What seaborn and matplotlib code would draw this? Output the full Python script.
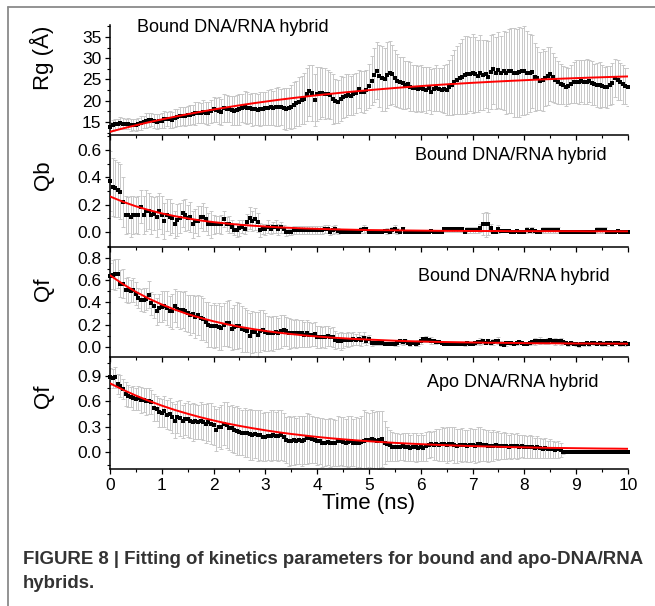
import numpy as np
import pandas as pd
import matplotlib
matplotlib.use("Agg")
import matplotlib.pyplot as plt
import seaborn as sns
from matplotlib.lines import Line2D
from matplotlib.ticker import MultipleLocator

# ---------------- data ----------------
FRAME_NS = 0.05   # spacing of data frames (ns)
FIT_NS = 0.25     # spacing of sampled fit curve (ns)

rg_mean = [
    13.9,14.2,14.5,14.6,14.7,14.6,14.5,14.6,14.3,14.4, 14.3,14.6,14.8,15.0,15.3,15.4,15.5,15.2,15.1,15.3,
    15.3,15.6,15.7,15.6,15.5,15.9,16.1,16.3,16.5,16.3, 16.6,16.7,16.8,17.0,17.2,17.1,17.4,17.2,17.0,17.5,
    18.0,17.8,17.7,17.4,18.2,18.1,18.0,17.8,17.7,17.8, 18.0,18.3,18.5,18.3,18.2,18.0,18.0,17.9,18.0,18.1,
    18.2,18.4,18.5,18.3,18.5,18.6,18.5,18.2,18.0,18.4, 18.6,19.0,19.4,19.8,20.2,20.5,21.5,22.4,21.8,20.2,
    21.6,21.8,21.9,21.7,21.6,21.3,20.4,20.0,19.8,20.5, 20.8,21.2,21.4,21.2,21.5,21.8,22.7,22.1,22.0,22.5,
    23.5,24.7,26.0,27.1,25.8,25.3,25.0,26.0,26.5,26.2, 25.3,24.7,24.3,24.1,23.7,23.9,23.3,22.9,22.9,22.8,
    22.9,22.7,22.5,22.9,22.1,22.7,22.9,22.7,22.6,22.8, 22.6,23.2,23.7,24.4,24.8,25.3,25.7,26.1,26.2,26.3,
    26.5,26.2,25.8,26.6,26.1,26.3,25.7,26.8,27.4,26.6, 27.2,26.6,27.1,26.5,26.9,27.1,26.6,26.5,26.8,26.9,
    27.1,26.6,26.5,26.8,25.6,25.3,24.7,24.9,25.3,25.8, 26.3,25.5,24.9,24.3,23.9,23.7,23.3,23.5,24.0,24.3,
    24.5,24.5,24.6,24.4,24.5,24.6,24.2,23.9,23.7,23.7, 23.5,23.3,23.2,23.6,24.1,25.3,24.8,24.5,23.9,23.5,
    23.3]
rg_err = [
    1.2,1.3,1.3,1.2,1.4,1.3,1.2,1.3,1.4,1.3, 1.5,1.4,1.6,1.5,1.7,1.6,1.5,1.7,1.8,1.6,
    1.8,1.9,1.7,2.0,1.9,2.1,2.0,2.2,2.1,2.3, 2.2,2.4,2.3,2.6,2.5,2.4,2.7,2.6,2.8,2.7,
    2.9,2.8,3.1,3.0,3.3,3.2,3.0,3.4,3.3,3.5, 3.6,3.4,3.8,3.7,3.5,3.9,3.8,3.6,4.0,3.9,
    3.8,4.1,4.3,4.0,4.4,4.6,4.3,4.8,5.0,4.7, 5.2,5.5,5.3,5.8,5.6,6.0,6.3,5.9,6.5,6.2,
    6.4,6.1,5.8,6.0,5.7,5.5,5.8,5.2,5.0,5.3, 4.9,5.1,4.8,4.6,4.9,4.7,4.5,4.8,5.0,4.7,
    5.2,5.8,6.3,6.8,7.2,7.6,7.3,7.8,7.5,7.0, 6.6,6.2,5.9,6.1,5.7,5.5,5.8,5.4,5.6,5.3,
    5.5,5.2,5.4,5.0,5.3,5.1,5.4,5.0,5.2,5.6, 6.0,6.5,7.1,7.6,8.0,8.4,8.8,9.2,9.0,8.7,
    9.3,8.9,8.5,8.8,8.3,8.0,8.4,8.7,8.2,8.5, 8.9,8.6,9.2,9.6,9.9,10.1,10.4,10.3,10.6,10.2,
    10.5,9.8,9.2,8.6,8.0,7.4,6.8,7.2,6.5,6.9, 6.3,5.8,5.4,5.0,4.7,4.4,4.6,4.3,4.5,4.8,
    5.0,5.2,4.9,5.1,5.3,5.0,5.2,4.8,5.1,5.4, 5.0,4.7,4.9,4.6,4.8,4.5,4.7,4.4,4.6,4.3,
    4.5]
rg_fit = [12.70,13.49,14.24,14.94,15.61,16.24,16.84,17.40,17.94,18.44,18.92,19.38,19.80,20.21,
          20.59,20.95,21.30,21.62,21.93,22.22,22.49,22.75,23.00,23.23,23.45,23.66,23.86,24.04,
          24.22,24.38,24.54,24.69,24.83,24.97,25.09,25.21,25.32,25.43,25.53,25.63,25.72]

qb_mean = [
    0.370,0.330,0.320,0.310,0.295,0.220,0.125,0.125,0.110,0.125, 0.125,0.125,0.185,0.125,0.155,0.155,0.125,0.135,0.110,0.155,
    0.125,0.080,0.125,0.110,0.105,0.056,0.088,0.105,0.137,0.125, 0.105,0.110,0.056,0.080,0.080,0.110,0.110,0.095,0.056,0.056,
    0.056,0.056,0.056,0.056,0.095,0.056,0.056,0.040,0.015,0.015, 0.027,0.040,0.022,0.070,0.100,0.080,0.095,0.070,0.015,0.022,
    0.020,0.040,0.022,0.034,0.040,0.020,0.034,0.022,0.000,0.000, 0.000,0.015,0.015,0.015,0.015,0.015,0.015,0.015,0.015,0.015,
    0.015,0.015,0.015,0.022,0.020,0.000,0.015,0.020,0.007,0.000, 0.000,0.000,0.000,0.000,0.000,0.000,0.000,0.015,0.022,0.020,
    0.000,0.000,0.000,0.000,0.000,0.000,0.007,0.007,0.000,0.015, 0.020,0.007,0.000,0.020,0.000,0.000,0.000,0.000,0.000,0.000,
    0.000,0.000,0.000,0.000,0.007,0.000,0.000,0.000,0.000,0.020, 0.020,0.020,0.020,0.020,0.020,0.020,0.020,0.000,0.015,0.015,
    0.015,0.015,0.015,0.027,0.056,0.056,0.056,0.027,0.000,0.000, 0.020,0.007,0.007,0.007,0.007,0.000,0.000,0.007,0.000,0.000,
    0.000,0.015,0.007,0.015,0.007,0.000,0.000,0.015,0.015,0.015, 0.015,0.015,0.015,0.015,0.000,0.000,0.000,0.000,0.000,0.000,
    0.000,0.000,0.000,0.000,0.000,0.000,0.000,0.000,0.015,0.015, 0.015,0.015,0.000,0.000,0.000,0.000,0.007,0.000,0.000,0.000,
    0.000]
qb_err = [
    0.22,0.21,0.21,0.20,0.20,0.18,0.14,0.13,0.15,0.14, 0.13,0.14,0.12,0.14,0.15,0.13,0.14,0.12,0.15,0.13,
    0.14,0.13,0.12,0.13,0.11,0.10,0.12,0.11,0.10,0.12, 0.09,0.11,0.10,0.09,0.11,0.08,0.10,0.09,0.08,0.10,
    0.07,0.06,0.06,0.07,0.06,0.05,0.06,0.05,0.04,0.05, 0.06,0.05,0.04,0.06,0.08,0.07,0.08,0.07,0.05,0.04,
    0.04,0.05,0.04,0.04,0.05,0.04,0.04,0.03,0.03,0.02, 0.02,0.03,0.03,0.03,0.03,0.03,0.03,0.03,0.03,0.03,
    0.03,0.03,0.03,0.03,0.03,0.02,0.03,0.03,0.02,0.00, 0.00,0.00,0.00,0.00,0.00,0.00,0.00,0.02,0.03,0.02,
    0.00,0.00,0.00,0.00,0.00,0.00,0.01,0.02,0.00,0.02, 0.03,0.02,0.00,0.02,0.00,0.00,0.00,0.00,0.00,0.00,
    0.00,0.00,0.00,0.00,0.01,0.00,0.00,0.00,0.00,0.02, 0.02,0.02,0.02,0.02,0.02,0.02,0.02,0.00,0.02,0.02,
    0.02,0.02,0.02,0.03,0.08,0.09,0.08,0.03,0.00,0.00, 0.03,0.01,0.01,0.01,0.01,0.00,0.00,0.01,0.00,0.00,
    0.00,0.02,0.01,0.02,0.01,0.00,0.00,0.02,0.02,0.02, 0.02,0.02,0.02,0.02,0.00,0.00,0.00,0.00,0.00,0.00,
    0.00,0.00,0.00,0.00,0.00,0.00,0.00,0.00,0.02,0.02, 0.02,0.02,0.00,0.00,0.00,0.00,0.01,0.00,0.00,0.00,
    0.00]
qb_fit = [0.260,0.221,0.188,0.160,0.136,0.116,0.099,0.084,0.072,0.062,0.053,0.046,0.040,0.034,
          0.030,0.026,0.023,0.020,0.018,0.016,0.014,0.013,0.012,0.011,0.010,0.009,0.008,0.008,
          0.007,0.007,0.007,0.006,0.006,0.006,0.006,0.006,0.006,0.005,0.005,0.005,0.005]

qf_bound_mean = [
    0.640,0.650,0.655,0.660,0.570,0.570,0.510,0.510,0.500,0.510, 0.480,0.440,0.420,0.420,0.430,0.470,0.390,0.370,0.320,0.350,
    0.360,0.370,0.350,0.320,0.320,0.370,0.340,0.330,0.330,0.320, 0.300,0.290,0.295,0.270,0.290,0.260,0.250,0.220,0.200,0.190,
    0.190,0.190,0.180,0.170,0.200,0.210,0.210,0.160,0.180,0.190, 0.190,0.160,0.150,0.140,0.100,0.130,0.130,0.110,0.140,0.150,
    0.130,0.120,0.120,0.120,0.130,0.120,0.140,0.150,0.140,0.120, 0.120,0.120,0.120,0.120,0.120,0.110,0.120,0.110,0.110,0.115,
    0.090,0.090,0.085,0.090,0.100,0.090,0.085,0.060,0.055,0.050, 0.057,0.063,0.063,0.063,0.072,0.063,0.072,0.057,0.080,0.055,
    0.070,0.033,0.033,0.033,0.033,0.033,0.024,0.024,0.024,0.024, 0.024,0.033,0.048,0.042,0.048,0.033,0.024,0.033,0.024,0.033,
    0.055,0.066,0.070,0.063,0.054,0.048,0.042,0.042,0.033,0.027, 0.025,0.025,0.025,0.025,0.025,0.025,0.025,0.025,0.033,0.027,
    0.025,0.033,0.042,0.045,0.048,0.033,0.048,0.033,0.042,0.050, 0.054,0.027,0.018,0.030,0.033,0.033,0.025,0.033,0.040,0.033,
    0.025,0.025,0.033,0.042,0.048,0.050,0.054,0.054,0.048,0.050, 0.063,0.054,0.048,0.054,0.048,0.042,0.033,0.025,0.033,0.025,
    0.025,0.018,0.025,0.025,0.033,0.025,0.030,0.033,0.027,0.033, 0.027,0.025,0.030,0.033,0.027,0.030,0.033,0.027,0.025,0.030,
    0.027]
qf_bound_err = [
    0.12,0.13,0.14,0.13,0.12,0.13,0.11,0.12,0.10,0.11, 0.10,0.09,0.10,0.11,0.10,0.12,0.10,0.11,0.12,0.13,
    0.14,0.13,0.15,0.14,0.16,0.15,0.16,0.17,0.16,0.18, 0.17,0.18,0.17,0.19,0.18,0.20,0.19,0.18,0.20,0.19,
    0.20,0.19,0.21,0.20,0.19,0.20,0.21,0.19,0.20,0.21, 0.20,0.21,0.20,0.19,0.20,0.19,0.18,0.20,0.19,0.18,
    0.17,0.16,0.15,0.16,0.15,0.14,0.15,0.14,0.13,0.14, 0.13,0.12,0.13,0.12,0.12,0.11,0.12,0.11,0.10,0.11,
    0.10,0.10,0.09,0.10,0.09,0.08,0.09,0.08,0.07,0.08, 0.07,0.06,0.07,0.06,0.06,0.05,0.06,0.05,0.05,0.04,
    0.04,0.03,0.02,0.02,0.02,0.02,0.01,0.01,0.01,0.01, 0.02,0.03,0.02,0.03,0.02,0.01,0.02,0.01,0.02,0.03,
    0.03,0.02,0.03,0.02,0.03,0.02,0.02,0.01,0.01,0.01, 0.01,0.01,0.01,0.01,0.01,0.01,0.01,0.02,0.02,0.01,
    0.01,0.02,0.02,0.03,0.02,0.01,0.02,0.02,0.03,0.02, 0.03,0.02,0.01,0.02,0.01,0.02,0.01,0.02,0.02,0.01,
    0.01,0.01,0.02,0.02,0.03,0.02,0.03,0.02,0.02,0.03, 0.02,0.02,0.03,0.02,0.03,0.02,0.01,0.02,0.02,0.01,
    0.02,0.02,0.01,0.02,0.01,0.02,0.01,0.02,0.01,0.01, 0.02,0.01,0.02,0.01,0.02,0.01,0.01,0.02,0.01,0.02,
    0.01]
qf_bound_fit = [0.645,0.565,0.495,0.434,0.381,0.335,0.294,0.260,0.229,0.203,0.180,0.160,0.142,0.127,
                0.114,0.102,0.092,0.083,0.076,0.069,0.064,0.059,0.054,0.050,0.047,0.044,0.042,0.040,
                0.038,0.036,0.035,0.034,0.032,0.031,0.031,0.030,0.029,0.029,0.028,0.028,0.027]

qf_apo_mean = [
    0.890,0.870,0.880,0.800,0.780,0.745,0.680,0.665,0.650,0.640, 0.630,0.635,0.615,0.615,0.600,0.600,0.590,0.520,0.510,0.470,
    0.460,0.480,0.440,0.450,0.410,0.370,0.410,0.400,0.360,0.385, 0.390,0.370,0.355,0.360,0.355,0.370,0.355,0.335,0.355,0.335,
    0.315,0.260,0.295,0.295,0.335,0.315,0.285,0.280,0.260,0.250, 0.240,0.230,0.230,0.220,0.210,0.200,0.210,0.200,0.200,0.180,
    0.180,0.190,0.190,0.200,0.190,0.190,0.200,0.180,0.140,0.130, 0.130,0.140,0.130,0.140,0.130,0.140,0.160,0.160,0.150,0.140,
    0.130,0.130,0.110,0.110,0.120,0.110,0.110,0.110,0.130,0.130, 0.120,0.110,0.120,0.130,0.110,0.110,0.110,0.120,0.130,0.140,
    0.140,0.150,0.140,0.130,0.140,0.150,0.110,0.090,0.080,0.065, 0.060,0.060,0.060,0.070,0.060,0.060,0.050,0.060,0.055,0.050,
    0.060,0.045,0.070,0.085,0.090,0.080,0.090,0.080,0.100,0.090, 0.080,0.090,0.100,0.080,0.075,0.080,0.085,0.080,0.075,0.085,
    0.080,0.075,0.090,0.100,0.085,0.080,0.075,0.070,0.075,0.080, 0.075,0.070,0.075,0.070,0.065,0.070,0.075,0.070,0.065,0.070,
    0.065,0.060,0.065,0.055,0.050,0.060,0.045,0.040,0.045,0.035, 0.040,0.035,0.025,0.030,0.025,0.000,0.005,0.000,0.000,0.000,
    0.000,0.002,0.000,0.000,0.002,0.000,0.000,0.000,0.002,0.000, 0.000,0.000,0.002,0.000,0.000,0.000,0.000,0.002,0.000,0.000,
    0.000]
qf_apo_err = [
    0.10,0.11,0.12,0.12,0.13,0.12,0.14,0.13,0.12,0.14, 0.13,0.14,0.15,0.14,0.16,0.15,0.14,0.16,0.15,0.17,
    0.16,0.18,0.17,0.19,0.18,0.20,0.19,0.21,0.20,0.19, 0.21,0.20,0.22,0.21,0.20,0.22,0.21,0.23,0.22,0.24,
    0.23,0.25,0.24,0.26,0.25,0.27,0.26,0.28,0.27,0.29, 0.28,0.27,0.29,0.28,0.30,0.29,0.28,0.30,0.29,0.28,
    0.29,0.28,0.30,0.29,0.28,0.30,0.29,0.28,0.27,0.29, 0.28,0.29,0.27,0.28,0.29,0.28,0.30,0.29,0.28,0.27,
    0.28,0.27,0.29,0.28,0.27,0.29,0.28,0.27,0.29,0.28, 0.29,0.28,0.30,0.29,0.28,0.30,0.29,0.31,0.37,0.33,
    0.32,0.34,0.33,0.35,0.34,0.33,0.25,0.20,0.18,0.17, 0.16,0.17,0.15,0.16,0.17,0.16,0.15,0.16,0.17,0.15,
    0.16,0.15,0.17,0.16,0.15,0.17,0.18,0.19,0.20,0.19, 0.21,0.20,0.19,0.21,0.20,0.19,0.20,0.18,0.19,0.20,
    0.19,0.20,0.21,0.20,0.19,0.18,0.19,0.17,0.18,0.16, 0.17,0.15,0.16,0.15,0.14,0.15,0.14,0.15,0.14,0.13,
    0.14,0.13,0.14,0.13,0.12,0.13,0.12,0.11,0.12,0.10, 0.11,0.10,0.09,0.10,0.08,0.02,0.01,0.01,0.01,0.01,
    0.01,0.01,0.01,0.01,0.01,0.01,0.01,0.01,0.01,0.01, 0.01,0.01,0.01,0.01,0.01,0.01,0.01,0.01,0.01,0.01,
    0.01]
qf_apo_fit = [0.810,0.734,0.665,0.603,0.547,0.496,0.451,0.409,0.372,0.338,0.308,0.281,0.256,0.233,
              0.213,0.195,0.178,0.163,0.150,0.138,0.127,0.117,0.108,0.100,0.093,0.086,0.080,0.075,
              0.070,0.066,0.062,0.058,0.055,0.052,0.049,0.047,0.045,0.043,0.041,0.040,0.038]

panel_labels = ["Rg (Å)", "Qb", "Qf", "Qf"]
panel_titles = ["Bound DNA/RNA hybrid", "Bound DNA/RNA hybrid",
                "Bound DNA/RNA hybrid", "Apo DNA/RNA hybrid"]
x_label = "Time (ns)"
caption_1 = "FIGURE 8 | Fitting of kinetics parameters for bound and apo-DNA/RNA"
caption_2 = "hybrids."

# ---------------- styling ----------------
sns.set_style("ticks")
plt.rcParams["font.family"] = ["Liberation Sans", "DejaVu Sans"]
plt.rcParams["axes.linewidth"] = 1.1
for k in ("text.color", "axes.labelcolor", "xtick.color", "ytick.color",
          "xtick.labelcolor", "ytick.labelcolor"):
    plt.rcParams[k] = "black"

W, H = 655, 606
fig = plt.figure(figsize=(W / 100, H / 100), dpi=100)

# axes boxes in pixel units
px_left, px_right = 110, 628
panel_px = [(25, 135), (135, 247), (247, 357), (357, 469)]
ylims = [(11.94, 37.82), (-0.11, 0.71), (-0.093, 0.90), (-0.20, 1.12)]
major = [5, 0.2, 0.2, 0.3]
minor = [2.5, 0.1, 0.1, 0.15]
fmt = ["{:.0f}", "{:.1f}", "{:.1f}", "{:.1f}"]
title_pos = [(0.052, 0.973), (0.589, 0.821), (0.595, 0.736), (0.612, 0.768)]
ylabel_y = [0.705, 0.643, 0.618, 0.652]

series = [(rg_mean, rg_err, rg_fit), (qb_mean, qb_err, qb_fit),
          (qf_bound_mean, qf_bound_err, qf_bound_fit), (qf_apo_mean, qf_apo_err, qf_apo_fit)]

for i, ((top, bot), (m, e, f)) in enumerate(zip(panel_px, series)):
    ax = fig.add_axes([px_left / W, 1 - bot / H, (px_right - px_left) / W, (bot - top) / H])
    t = np.round(np.arange(len(m)) * FRAME_NS, 3)
    tf = np.round(np.arange(len(f)) * FIT_NS, 3)
    df = pd.DataFrame({"t": t, "v": m, "e": e})
    ax.errorbar(df["t"], df["v"], yerr=df["e"], fmt="none", ecolor="#c8c8c8",
                elinewidth=0.7, capsize=1.3, capthick=0.7, zorder=1)
    sns.scatterplot(data=df, x="t", y="v", marker="s", s=5.5, color="black",
                    linewidth=0, ax=ax, zorder=3, clip_on=False)
    sns.lineplot(x=tf, y=f, color="#ff0000", linewidth=1.4, ax=ax, zorder=4)

    ax.set_xlim(0, 10)
    ax.set_ylim(*ylims[i])
    ax.xaxis.set_major_locator(MultipleLocator(1))
    ax.xaxis.set_minor_locator(MultipleLocator(0.5))
    ax.yaxis.set_major_locator(MultipleLocator(major[i]))
    ax.yaxis.set_minor_locator(MultipleLocator(minor[i]))
    ax.yaxis.set_major_formatter(plt.FuncFormatter(lambda v, p, ff=fmt[i]: ff.format(v + 0.0)))
    for s in ("top", "right"):
        ax.spines[s].set_visible(False)
    for s in ("left", "bottom"):
        ax.spines[s].set_color("black")
        ax.spines[s].set_linewidth(1.1)
    ax.tick_params(axis="both", which="major", direction="out", length=3.8, width=0.9,
                   labelsize=12.5, color="black", labelcolor="black", pad=2.5)
    ax.tick_params(axis="both", which="minor", direction="out", length=2.2, width=0.8,
                   color="black")
    ax.set_facecolor("none")
    ax.set_ylabel(panel_labels[i], fontsize=16, labelpad=0, color="black")
    ax.yaxis.set_label_coords(-0.108, ylabel_y[i])
    if i < 3:
        ax.tick_params(axis="x", labelbottom=False)
        ax.set_xlabel("")
    else:
        ax.set_xlabel(x_label, fontsize=16, labelpad=0, color="black")
    ax.text(title_pos[i][0], title_pos[i][1], panel_titles[i], transform=ax.transAxes,
            fontsize=13, ha="left", va="center", clip_on=False, color="black")

# frame lines (top and left border of the figure panel)
bx, by = 8 / W, 1 - 6.7 / H
fig.add_artist(Line2D([bx, bx], [0, by], color="#8a8a8a", lw=1.3))
fig.add_artist(Line2D([bx, 1], [by, by], color="#8a8a8a", lw=1.3))

cap1 = fig.text(23 / W, 1 - 560 / H, caption_1, fontsize=13, fontweight="bold",
                color="#333333", ha="left", va="center")
cap2 = fig.text(23 / W, 1 - 584 / H, caption_2, fontsize=13, fontweight="bold",
                color="#333333", ha="left", va="center")
fig.canvas.draw()
r = fig.canvas.get_renderer()
w = cap1.get_window_extent(r).width
fs = 13 * 622 / w
cap1.set_fontsize(fs)
cap2.set_fontsize(fs)

fig.savefig("out.png", dpi=100)
